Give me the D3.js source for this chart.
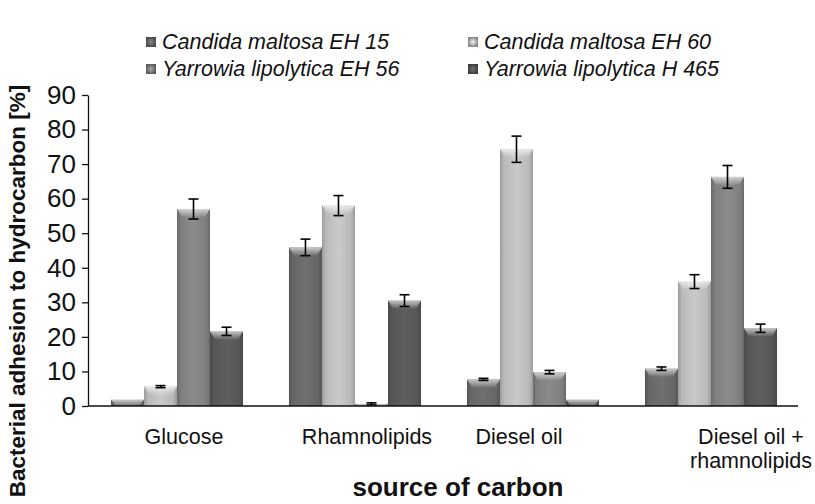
<!DOCTYPE html>
<html>
<head>
<meta charset="utf-8">
<script src="https://cdn.jsdelivr.net/npm/d3@7"></script>
<style>
  body { margin: 0; background: #fff; }
  svg { display: block; }
  text { font-family: "Liberation Sans", Arial, sans-serif; fill: #111; }
</style>
</head>
<body>
<svg id="chart" width="815" height="504"></svg>
<script>
const categories = ["Glucose", "Rhamnolipids", "Diesel oil", "Diesel oil +\nrhamnolipids"];
const series = ["Candida maltosa EH 15", "Candida maltosa EH 60", "Yarrowia lipolytica EH 56", "Yarrowia lipolytica H 465"];
const valuesEH15 = [1.8, 45.9, 7.7, 10.8];
const valuesEH60 = [5.6, 58.0, 74.3, 36.0];
const valuesEH56 = [57.0, 0.6, 9.8, 66.3];
const valuesH465 = [21.6, 30.5, 1.8, 22.5];
const errEH15 = [0, 2.4, 0.3, 0.5];
const errEH60 = [0.3, 2.9, 3.8, 2.0];
const errEH56 = [2.9, 0.3, 0.5, 3.3];
const errH465 = [1.2, 1.7, 0, 1.2];
const yTicks = [0, 10, 20, 30, 40, 50, 60, 70, 80, 90];
const colors = ["#666666", "#b9b9b9", "#7f7f7f", "#565656"];

const values = [valuesEH15, valuesEH60, valuesEH56, valuesH465];
const errs = [errEH15, errEH60, errEH56, errH465];

const svg = d3.select("#chart");
const defs = svg.append("defs");

const y = d3.scaleLinear().domain([0, 90]).range([406, 95]);
const x0 = d3.scaleBand().domain(categories).range([88, 800]).paddingInner(0.258).paddingOuter(0.129);
const x1 = d3.scaleBand().domain(series).range([0, x0.bandwidth()]).padding(0);

series.forEach((s, i) => {
  const c = d3.color(colors[i]);
  const g = defs.append("linearGradient").attr("id", "g" + i).attr("x1", "0%").attr("x2", "100%").attr("y1", "0%").attr("y2", "0%");
  g.append("stop").attr("offset", "0%").attr("stop-color", c.darker(0.5));
  g.append("stop").attr("offset", "12%").attr("stop-color", c);
  g.append("stop").attr("offset", "50%").attr("stop-color", c.brighter(0.25));
  g.append("stop").attr("offset", "88%").attr("stop-color", c);
  g.append("stop").attr("offset", "100%").attr("stop-color", c.darker(0.5));
  const r = defs.append("radialGradient").attr("id", "r" + i);
  r.append("stop").attr("offset", "0%").attr("stop-color", c.brighter(0.8));
  r.append("stop").attr("offset", "100%").attr("stop-color", c.darker(0.9));
});
const cap = defs.append("linearGradient").attr("id", "cap").attr("x1", "0").attr("x2", "0").attr("y1", "0").attr("y2", "1");
cap.append("stop").attr("offset", "0%").attr("stop-color", "#fff").attr("stop-opacity", 0.65);
cap.append("stop").attr("offset", "100%").attr("stop-color", "#fff").attr("stop-opacity", 0.05);

// axes
const yAxis = d3.axisLeft(y).tickValues(yTicks).tickSize(6).tickSizeOuter(0).tickPadding(6);
const ya = svg.append("g").attr("transform", "translate(88,0)").call(yAxis);
ya.selectAll("text").style("font-size", "26px").attr("fill", "#111");
ya.selectAll("line,path").attr("stroke", "#111").attr("stroke-width", 1.3);

// bars
const groups = svg.append("g").selectAll("g").data(categories).join("g")
  .attr("transform", d => `translate(${x0(d)},0)`);

groups.each(function(cat, ci) {
  const g = d3.select(this);
  series.forEach((s, si) => {
    const v = values[si][ci];
    const bx = x1(s), bw = x1.bandwidth(), by = y(v), bh = y(0) - y(v);
    g.append("rect").attr("x", bx).attr("y", by).attr("width", bw).attr("height", bh)
      .attr("fill", `url(#g${si})`);
    const ch = Math.min(8, bh);
    g.append("path")
      .attr("d", `M${bx},${by}L${bx + bw},${by}L${bx + bw - 5},${by + ch}L${bx + 5},${by + ch}Z`)
      .attr("fill", "url(#cap)");
    const e = errs[si][ci];
    if (e > 0) {
      const cx = bx + bw / 2;
      const eg = g.append("g").attr("stroke", "#000").attr("stroke-width", 1.6);
      eg.append("line").attr("x1", cx).attr("x2", cx).attr("y1", y(v + e)).attr("y2", y(v - e));
      eg.append("line").attr("x1", cx - 5).attr("x2", cx + 5).attr("y1", y(v + e)).attr("y2", y(v + e));
      eg.append("line").attr("x1", cx - 5).attr("x2", cx + 5).attr("y1", y(v - e)).attr("y2", y(v - e));
    }
  });
});

// x axis line
svg.append("line").attr("x1", 88).attr("x2", 798).attr("y1", y(0)).attr("y2", y(0))
  .attr("stroke", "#111").attr("stroke-width", 1.3);

// category labels
const labelOffsets = [7, 12, -14, 40];
categories.forEach((c, i) => {
  const lines = c.split("\n");
  const cx = x0(c) + x0.bandwidth() / 2 + labelOffsets[i];
  const t = svg.append("text").attr("text-anchor", "middle").attr("y", 444).style("font-size", "21.5px");
  lines.forEach((l, li) => t.append("tspan").attr("x", cx).attr("dy", li === 0 ? 0 : 24).text(l));
});

// axis titles
svg.append("text").attr("text-anchor", "middle").attr("x", 458).attr("y", 496)
  .style("font-size", "26px").style("font-weight", "bold").text("source of carbon");
svg.append("text").attr("text-anchor", "middle").attr("transform", "translate(25,291) rotate(-90)")
  .style("font-size", "22.5px").style("font-weight", "bold").text("Bacterial adhesion to hydrocarbon [%]");

// legend
const legPos = [[146, 42], [468, 42], [146, 69], [468, 69]];
series.forEach((s, i) => {
  const [lx, ly] = legPos[i];
  svg.append("rect").attr("x", lx).attr("y", ly - 5).attr("width", 10).attr("height", 10).attr("fill", `url(#r${i})`);
  svg.append("text").attr("x", lx + 16).attr("y", ly + 7).style("font-size", "21.5px").style("font-style", "italic").text(s);
});
</script>
</body>
</html>
